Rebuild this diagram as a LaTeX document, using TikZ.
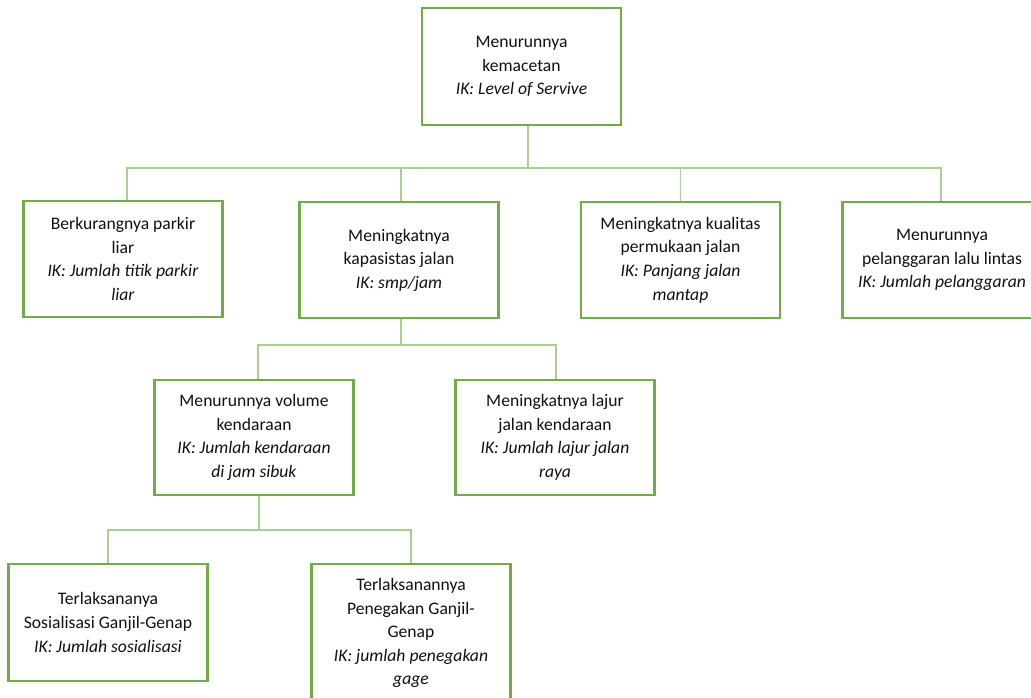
\documentclass[tikz,border=0pt]{standalone}
\usepackage{fontspec}
\setmainfont{Carlito}
\definecolor{boxgreen}{HTML}{70AD47}
\definecolor{linegreen}{HTML}{A9D18E}
\definecolor{txt}{HTML}{111111}
\begin{document}
\begin{tikzpicture}[x=1pt,y=-1pt,
  goal/.style={draw=boxgreen, line width=2.3pt, fill=white, rectangle,
    minimum width=199pt, minimum height=116pt, inner sep=2pt,
    align=center, text=txt,
    font=\fontsize{17.6}{23.6}\selectfont},
  conn/.style={draw=linegreen, line width=1.4pt}]
\useasboundingbox (0,0) rectangle (1031,698);
\clip (0,0) rectangle (1031,698);
% bus junctions
\coordinate (bus1) at (528,168);
\coordinate (bus2) at (401,345);
\coordinate (bus3) at (259,530);

\node[goal, minimum height=117pt] (top) at (521.5,66.5) {Menurunnya\\kemacetan\\\textit{IK: Level of Servive}};
\node[goal] (b1) at (123,259) {Berkurangnya parkir\\liar\\\textit{IK: Jumlah titik parkir}\\\textit{liar}};
\node[goal] (b2) at (399,260) {Meningkatnya\\kapasistas jalan\\\textit{IK: smp/jam}};
\node[goal] (b3) at (680.5,260) {Meningkatnya kualitas\\permukaan jalan\\\textit{IK: Panjang jalan}\\\textit{mantap}};
\node[goal] (b4) at (942,260) {Menurunnya\\pelanggaran lalu lintas\\\textit{IK: Jumlah pelanggaran}};
\node[goal, minimum height=115pt] (b5) at (254,437.5) {Menurunnya volume\\kendaraan\\\textit{IK: Jumlah kendaraan}\\\textit{di jam sibuk}};
\node[goal, minimum height=115pt] (b6) at (555,437.5) {Meningkatnya lajur\\jalan kendaraan\\\textit{IK: Jumlah lajur jalan}\\\textit{raya}};
\node[goal, minimum height=117pt] (b7) at (108,622.5) {Terlaksananya\\Sosialisasi Ganjil-Genap\\\textit{IK: Jumlah sosialisasi}};
\node[goal, minimum height=138pt] (b8) at (411,633) {Terlaksanannya\\Penegakan Ganjil-\\Genap\\\textit{IK: jumlah penegakan}\\\textit{gage}};

% level 1
\draw[conn] ([xshift=6.5pt]top.south) -- (bus1);
\draw[conn] ([xshift=4pt]b1.north) |- (bus1) -| ([xshift=-1pt]b4.north);
\draw[conn] ([xshift=2pt]b2.north) -- ([xshift=2pt]b2.north |- bus1);
\draw[conn] (b3.north) -- (b3.north |- bus1);
% level 2
\draw[conn] ([xshift=2pt]b2.south) -- (bus2);
\draw[conn] ([xshift=4pt]b5.north) |- (bus2) -| ([xshift=1pt]b6.north);
% level 3
\draw[conn] ([xshift=5pt]b5.south) -- (bus3);
\draw[conn] (b7.north) |- (bus3) -| (b8.north);
\end{tikzpicture}
\end{document}
